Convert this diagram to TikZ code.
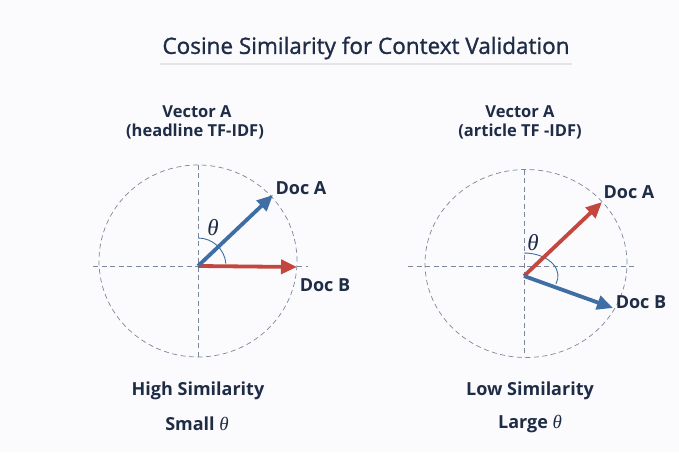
\documentclass[tikz,border=0pt]{standalone}
\usepackage{fontspec}
\setmainfont{Open Sans}
\newfontfamily\titlefont[FakeBold=1.2]{Open Sans}
\newfontfamily\grkfont{Liberation Serif}
\usetikzlibrary{arrows.meta,calc}
\definecolor{ink}{HTML}{1F2C46}
\definecolor{vblue}{HTML}{3E6EA3}
\definecolor{vred}{HTML}{C4473F}
\definecolor{dashc}{HTML}{7C879B}
\definecolor{bg}{HTML}{FBFBFD}
\newcommand{\thsized}[1]{{\grkfont\mdseries\itshape\fontsize{#1}{#1}\selectfont θ}}
\begin{document}
\begin{tikzpicture}[x=1pt,y=1pt,
  lbl/.style={text=ink,font=\bfseries\fontsize{16.5}{19}\selectfont,inner sep=0pt},
  doc/.style={text=ink,font=\bfseries\fontsize{18}{21}\selectfont,inner sep=0pt},
  bot/.style={text=ink,font=\bfseries\fontsize{18}{21}\selectfont,inner sep=0pt},
  guide/.style={draw=dashc,line width=0.7pt,dash pattern=on 5pt off 3.5pt},
  vec/.style={line width=3.8pt,-{Triangle[length=16pt,width=14pt]}},
  anglearc/.style={draw=vblue,line width=0.9pt},
  th/.style={text=ink,inner sep=0pt}]
\fill[bg] (0,0) rectangle (679,452);
\useasboundingbox (0,0) rectangle (679,452);
% title
\node[text=ink,font=\titlefont\fontsize{22.5}{26}\selectfont,inner sep=0pt] (title) at (366,404) {Cosine Similarity for Context Validation};
\draw[draw=black!10,line width=1.2pt] (160,388) -- (572,388);
% headers
\node[lbl] (va1) at (197,340) {Vector A};
\node[lbl] (vs1) at (195,320) {(headline TF-IDF)};
\node[lbl] (va2) at (520,340) {Vector A};
\node[lbl] (vs2) at (520,320) {(article TF -IDF)};
% left diagram
\coordinate (o1) at (198,186);
\draw[guide] (198,191) ellipse [x radius=99, y radius=96];
\draw[guide] (93,186) -- (308,186);
\draw[guide] (198,287) -- (198,95);
\coordinate (a1) at (273,257);
\coordinate (b1) at (297,185);
\draw[anglearc] ($(o1)+(0,28)$) arc[start angle=90,end angle=5,radius=28];
\draw[vec,vred] (o1) -- (b1);
\draw[vec,vblue] (o1) -- (a1);
\node[th] (t1) at (213,224) {\thsized{23}};
\node[doc] (da1) at (301,264) {Doc A};
\node[doc] (db1) at (325,167) {Doc B};
% right diagram
\coordinate (o2) at (524,176);
\draw[guide] (526,188.5) ellipse [x radius=101, y radius=94];
\draw[guide] (408,186) -- (637,186);
\draw[guide] (524,282) -- (524,95);
\coordinate (a2) at (602,250);
\coordinate (b2) at (613,144);
\draw[anglearc] ($(o2)+(0,23)$) arc[start angle=90,end angle=-20,x radius=34,y radius=23];
\draw[vec,vred] (o2) -- (a2);
\draw[vec,vblue] (o2) -- (b2);
\node[th] (t2) at (533,209) {\thsized{23}};
\node[doc] (da2) at (629,260) {Doc A};
\node[doc] (db2) at (641,150) {Doc B};
% bottom
\node[bot] (hs) at (198,61) {High Similarity};
\node[bot] (st) at (197,28) {Small \thsized{19}};
\node[bot] (ls) at (530,61) {Low Similarity};
\node[bot] (lt) at (530,28) {Large \thsized{19}};
\end{tikzpicture}
\end{document}
